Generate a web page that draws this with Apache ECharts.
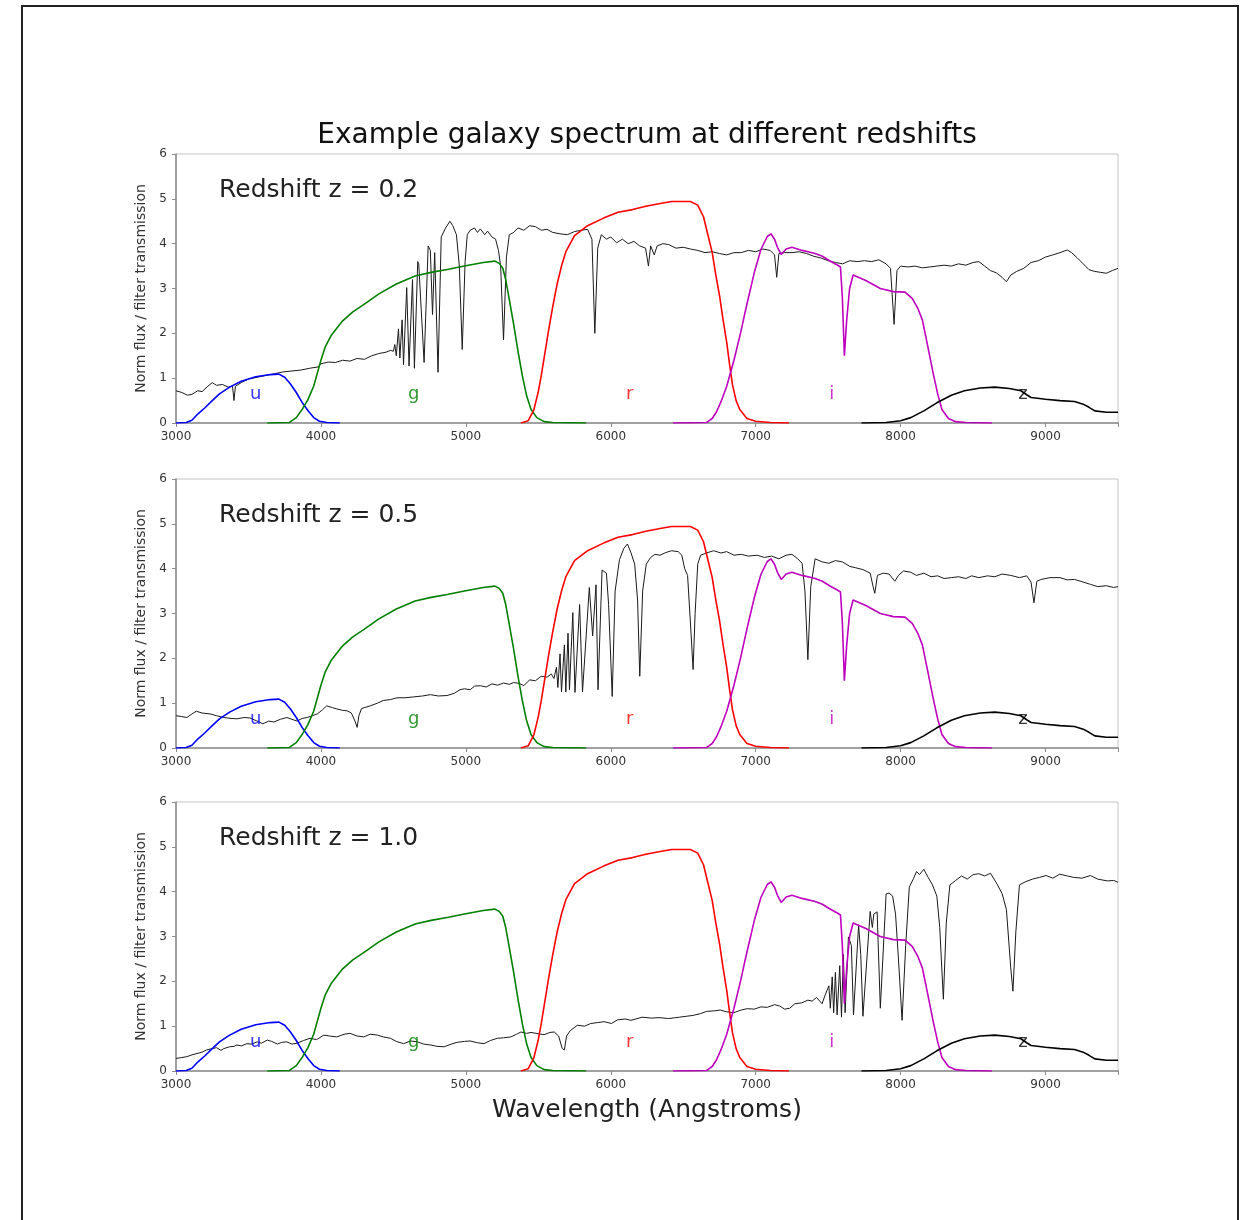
<!DOCTYPE html>
<html>
<head>
<meta charset="utf-8">
<title>Example galaxy spectrum at different redshifts</title>
<script src="https://cdn.jsdelivr.net/npm/echarts@6/dist/echarts.min.js"></script>
<style>
  html, body { margin: 0; padding: 0; background: #fff; }
  #chart { width: 1240px; height: 1220px; }
</style>
</head>
<body>
<div id="chart"></div>
<script>
// panel redshifts and filter names
const redshifts = ['0.2', '0.5', '1.0']
const filterNames = ['u', 'g', 'r', 'i', 'z']
const filterLabelWave = [3550, 4640, 6130, 7525, 8845]
const filterLabelLevel = 0.64
const yTicks = [0, 1, 2, 3, 4, 5, 6]

// filter transmission curves (scaled), same in every panel: [wavelength, value]
const uFilter = [[3000,0],[3070,0.01],[3110,0.06],[3150,0.2],[3200,0.34],[3250,0.5],[3300,0.65],[3370,0.8],[3450,0.93],[3550,1.03],[3650,1.08],[3710,1.09],[3750,1.02],[3790,0.87],[3830,0.68],[3870,0.46],[3910,0.28],[3950,0.12],[3990,0.04],[4040,0.01],[4130,0]]
const gFilter = [[3630,0],[3780,0.01],[3830,0.12],[3870,0.3],[3910,0.52],[3950,0.82],[4000,1.4],[4030,1.7],[4070,1.95],[4150,2.28],[4220,2.48],[4300,2.65],[4400,2.88],[4520,3.1],[4650,3.28],[4760,3.36],[4880,3.43],[4990,3.5],[5120,3.58],[5200,3.61],[5230,3.56],[5255,3.45],[5275,3.2],[5300,2.75],[5330,2.2],[5360,1.6],[5390,1.05],[5420,0.6],[5450,0.3],[5490,0.12],[5540,0.03],[5600,0.01],[5830,0]]
const rFilter = [[5380,0],[5430,0.05],[5470,0.3],[5500,0.7],[5520,1.05],[5545,1.55],[5570,2.05],[5600,2.6],[5630,3.1],[5660,3.5],[5690,3.82],[5750,4.18],[5840,4.4],[5950,4.57],[6050,4.7],[6150,4.76],[6250,4.84],[6350,4.9],[6420,4.94],[6550,4.94],[6600,4.86],[6640,4.6],[6670,4.2],[6700,3.8],[6725,3.3],[6750,2.85],[6775,2.3],[6800,1.8],[6820,1.3],[6840,0.85],[6865,0.5],[6890,0.3],[6940,0.1],[7000,0.04],[7100,0.01],[7230,0]]
const iFilter = [[6430,0],[6660,0.01],[6700,0.1],[6730,0.25],[6760,0.47],[6800,0.82],[6850,1.4],[6895,2.0],[6940,2.66],[6990,3.35],[7036,3.87],[7080,4.16],[7105,4.22],[7130,4.1],[7150,3.92],[7176,3.76],[7210,3.88],[7250,3.92],[7320,3.85],[7410,3.78],[7460,3.72],[7510,3.62],[7560,3.53],[7585,3.48],[7598,2.8],[7612,1.5],[7628,2.3],[7648,3.0],[7672,3.3],[7760,3.18],[7860,3.0],[7950,2.93],[8030,2.92],[8080,2.78],[8120,2.55],[8150,2.3],[8185,1.75],[8225,1.1],[8255,0.66],[8285,0.3],[8330,0.1],[8380,0.03],[8450,0.01],[8630,0]]
const zFilter = [[7730,0],[7900,0.01],[8000,0.05],[8070,0.12],[8160,0.27],[8250,0.45],[8350,0.62],[8440,0.72],[8550,0.78],[8650,0.8],[8750,0.77],[8830,0.72],[8870,0.63],[8900,0.57],[9000,0.53],[9100,0.5],[9200,0.48],[9260,0.42],[9300,0.35],[9340,0.27],[9420,0.24],[9500,0.24]]

// observed galaxy spectrum, normalised flux: [wavelength, flux]
const spectrumZ02 = [[3000,0.72],[3040,0.68],[3080,0.62],[3110,0.64],[3150,0.72],[3180,0.7],[3220,0.82],[3250,0.9],[3280,0.84],[3320,0.86],[3360,0.8],[3390,0.82],[3400,0.5],[3410,0.82],[3450,0.9],[3500,0.98],[3560,1.02],[3620,1.06],[3680,1.1],[3740,1.14],[3800,1.16],[3860,1.18],[3920,1.22],[3980,1.25],[4000,1.32],[4050,1.36],[4100,1.35],[4150,1.4],[4200,1.38],[4250,1.44],[4300,1.42],[4350,1.5],[4400,1.55],[4450,1.58],[4480,1.62],[4500,1.6],
  [4510,1.75],[4520,1.5],[4535,2.1],[4545,1.45],[4560,2.3],[4570,1.3],[4592,3.02],[4608,1.27],[4632,3.2],[4645,1.22],[4668,3.6],[4675,3.55],[4712,1.35],[4740,3.95],[4755,3.85],[4770,2.42],[4785,3.8],[4808,1.13],[4830,4.15],[4860,4.35],[4890,4.5],[4910,4.4],[4935,4.2],[4955,3.5],[4975,1.64],[4995,3.6],[5010,4.2],[5030,4.3],[5060,4.35],[5080,4.25],[5100,4.33],[5130,4.2],[5150,4.28],[5180,4.15],[5205,4.1],[5225,3.85],[5240,3.5],[5260,1.85],[5280,3.7],[5300,4.2],[5330,4.25],[5360,4.35],[5400,4.3],[5440,4.4],[5480,4.38],[5520,4.3],[5560,4.32],[5600,4.25],[5650,4.22],[5700,4.2],[5750,4.27],[5800,4.3],[5840,4.32],[5870,4.1],[5890,2.0],[5910,3.9],[5935,4.2],[5970,4.1],[6000,4.15],[6040,4.02],[6080,4.1],[6120,4.0],[6160,4.05],[6200,3.95],[6240,3.9],[6260,3.5],[6275,3.95],[6300,3.75],[6320,3.95],[6360,4.0],[6400,3.98],[6450,3.9],[6500,3.92],[6550,3.88],[6600,3.85],[6650,3.8],[6700,3.82],[6750,3.78],[6800,3.75],[6850,3.8],[6900,3.8],[6950,3.85],[7000,3.82],[7050,3.88],[7100,3.85],[7130,3.75],[7145,3.25],[7160,3.78],[7200,3.8],[7250,3.8],[7300,3.82],[7350,3.78],[7400,3.72],[7450,3.68],[7500,3.62],[7550,3.58],[7600,3.55],[7650,3.62],[7700,3.6],[7750,3.62],[7800,3.6],[7850,3.64],[7900,3.55],[7930,3.45],[7955,2.2],[7975,3.4],[8000,3.5],[8050,3.48],[8100,3.5],[8150,3.46],[8200,3.48],[8250,3.5],[8300,3.52],[8350,3.5],[8400,3.55],[8450,3.52],[8500,3.58],[8540,3.6],[8580,3.5],[8620,3.4],[8660,3.35],[8700,3.25],[8730,3.15],[8760,3.3],[8800,3.38],[8850,3.45],[8900,3.58],[8950,3.62],[9000,3.7],[9050,3.75],[9100,3.8],[9150,3.86],[9180,3.8],[9220,3.68],[9260,3.55],[9300,3.42],[9340,3.38],[9380,3.36],[9420,3.34],[9460,3.4],[9500,3.45]]
const spectrumZ05 = [[3000,0.72],[3040,0.7],[3075,0.68],[3110,0.76],[3140,0.82],[3180,0.78],[3235,0.76],[3280,0.72],[3330,0.68],[3380,0.66],[3420,0.65],[3470,0.68],[3510,0.67],[3560,0.6],[3600,0.54],[3640,0.6],[3675,0.58],[3720,0.64],[3765,0.68],[3800,0.64],[3835,0.6],[3870,0.66],[3905,0.68],[3940,0.72],[3975,0.76],[4010,0.85],[4040,0.94],[4080,0.9],[4110,0.87],[4150,0.84],[4180,0.83],[4210,0.78],[4235,0.6],[4250,0.46],[4262,0.72],[4280,0.88],[4340,0.94],[4390,1.0],[4430,1.06],[4480,1.08],[4525,1.12],[4580,1.12],[4640,1.14],[4700,1.16],[4756,1.19],[4810,1.16],[4870,1.17],[4920,1.22],[4960,1.3],[4990,1.32],[5030,1.3],[5060,1.38],[5100,1.39],[5140,1.36],[5180,1.43],[5220,1.4],[5260,1.45],[5300,1.42],[5330,1.46],[5370,1.44],[5400,1.39],[5440,1.52],[5480,1.5],[5520,1.6],[5560,1.58],[5590,1.65],[5608,1.55],
  [5625,1.8],[5635,1.35],[5650,2.1],[5660,1.25],[5680,2.3],[5690,1.25],[5705,2.56],[5715,1.3],[5738,3.02],[5753,1.24],[5785,3.2],[5805,1.25],[5852,3.58],[5875,2.5],[5898,3.64],[5912,1.3],[5940,3.97],[5970,3.9],[5985,3.2],[6010,1.15],[6030,3.5],[6060,4.2],[6090,4.45],[6115,4.55],[6140,4.35],[6165,4.1],[6185,3.3],[6200,1.6],[6220,3.5],[6245,4.1],[6275,4.25],[6305,4.32],[6340,4.3],[6380,4.36],[6420,4.4],[6465,4.38],[6490,4.3],[6510,4.0],[6530,3.85],[6555,2.5],[6568,1.75],[6582,3.0],[6600,4.1],[6620,4.3],[6660,4.35],[6710,4.4],[6760,4.35],[6800,4.38],[6850,4.3],[6900,4.32],[6950,4.28],[7010,4.3],[7060,4.25],[7110,4.28],[7160,4.22],[7210,4.3],[7250,4.32],[7290,4.22],[7320,4.12],[7340,3.5],[7360,1.97],[7380,3.6],[7410,4.22],[7460,4.15],[7505,4.12],[7550,4.18],[7600,4.15],[7650,4.05],[7690,4.02],[7740,3.98],[7790,3.9],[7810,3.6],[7822,3.45],[7840,3.85],[7880,3.9],[7920,3.88],[7960,3.72],[7985,3.85],[8020,3.95],[8070,3.92],[8110,3.85],[8160,3.9],[8210,3.82],[8255,3.84],[8300,3.78],[8350,3.8],[8400,3.82],[8450,3.78],[8490,3.84],[8540,3.8],[8600,3.84],[8650,3.82],[8700,3.88],[8760,3.85],[8820,3.8],[8870,3.84],[8900,3.7],[8920,3.24],[8940,3.72],[8970,3.76],[9030,3.8],[9100,3.8],[9150,3.75],[9200,3.76],[9260,3.7],[9310,3.65],[9360,3.6],[9420,3.62],[9470,3.58],[9500,3.6]]
const spectrumZ10 = [[3000,0.28],[3040,0.3],[3075,0.32],[3110,0.36],[3145,0.39],[3180,0.42],[3212,0.47],[3250,0.5],[3280,0.52],[3310,0.46],[3330,0.5],[3370,0.54],[3400,0.55],[3420,0.58],[3450,0.56],[3490,0.61],[3520,0.6],[3560,0.65],[3590,0.62],[3630,0.69],[3660,0.66],[3700,0.6],[3730,0.64],[3765,0.65],[3800,0.6],[3835,0.62],[3880,0.68],[3925,0.73],[3970,0.7],[4020,0.8],[4060,0.78],[4110,0.76],[4160,0.82],[4200,0.84],[4250,0.78],[4295,0.76],[4340,0.82],[4390,0.8],[4430,0.76],[4480,0.73],[4520,0.66],[4570,0.61],[4620,0.67],[4665,0.65],[4710,0.6],[4756,0.58],[4800,0.55],[4850,0.54],[4900,0.6],[4940,0.64],[4990,0.66],[5030,0.67],[5080,0.63],[5125,0.61],[5170,0.68],[5217,0.73],[5260,0.74],[5310,0.76],[5350,0.82],[5380,0.87],[5420,0.84],[5450,0.86],[5500,0.83],[5540,0.81],[5580,0.86],[5610,0.87],[5640,0.78],[5665,0.5],[5680,0.47],[5695,0.78],[5720,0.9],[5770,1.02],[5820,1.0],[5862,1.06],[5910,1.08],[5954,1.1],[6005,1.06],[6046,1.14],[6100,1.16],[6140,1.13],[6216,1.2],[6280,1.18],[6333,1.19],[6400,1.17],[6473,1.2],[6520,1.22],[6567,1.24],[6620,1.28],[6661,1.33],[6710,1.34],[6755,1.36],[6800,1.32],[6848,1.3],[6900,1.36],[6942,1.39],[6990,1.38],[7036,1.43],[7080,1.42],[7130,1.48],[7165,1.45],[7200,1.38],[7235,1.4],[7270,1.5],[7318,1.52],[7360,1.58],[7390,1.56],[7420,1.64],[7458,1.5],[7480,1.7],[7505,1.9],
  [7515,1.4],[7528,2.1],[7538,1.3],[7550,2.2],[7562,1.25],[7580,2.35],[7592,1.2],[7605,2.6],[7617,1.3],[7640,2.99],[7660,2.8],[7675,1.25],[7710,3.26],[7725,2.6],[7740,1.22],[7790,3.56],[7805,3.2],[7815,3.5],[7838,3.55],[7860,1.4],[7900,3.95],[7920,3.97],[7945,3.9],[7965,3.5],[7985,2.5],[8010,1.13],[8035,2.8],[8060,4.1],[8090,4.3],[8110,4.45],[8130,4.38],[8160,4.5],[8190,4.32],[8220,4.15],[8250,3.9],[8270,3.2],[8295,1.6],[8315,3.3],[8340,4.15],[8380,4.25],[8420,4.35],[8460,4.28],[8500,4.38],[8540,4.4],[8580,4.35],[8620,4.41],[8660,4.2],[8700,3.96],[8730,3.6],[8760,2.3],[8775,1.78],[8795,3.1],[8820,4.15],[8860,4.22],[8910,4.28],[8960,4.32],[9004,4.36],[9050,4.3],[9098,4.39],[9150,4.35],[9192,4.32],[9250,4.3],[9309,4.36],[9360,4.28],[9426,4.24],[9470,4.25],[9500,4.21]]

const filters = [uFilter, gFilter, rFilter, iFilter, zFilter]
const spectra = [spectrumZ02, spectrumZ05, spectrumZ10]

const filterColors = ['#0000ff', '#008000', '#ff0000', '#bf00bf', '#000000']
const font = '"DejaVu Sans", sans-serif'
const gridTop = [154, 479, 802]

const chart = echarts.init(document.getElementById('chart'))

let series = []
gridTop.forEach((t, p) => {
  series.push({
    type: 'line',
    xAxisIndex: p,
    yAxisIndex: p,
    data: spectra[p],
    showSymbol: false,
    lineStyle: { color: '#1a1a1a', width: 1 },
    z: 2
  })
  filters.forEach((f, k) => {
    series.push({
      type: 'line',
      xAxisIndex: p,
      yAxisIndex: p,
      data: f,
      showSymbol: false,
      lineStyle: { color: filterColors[k], width: 1.6 },
      z: 3
    })
  })
  // filter letters
  series.push({
    type: 'scatter',
    xAxisIndex: p,
    yAxisIndex: p,
    symbolSize: 1,
    itemStyle: { color: 'rgba(0,0,0,0)' },
    data: filterLabelWave.map((w, k) => ({
      value: [w, filterLabelLevel],
      label: { color: filterColors[k] }
    })),
    label: {
      show: true,
      position: 'inside',
      fontSize: 18,
      fontFamily: font,
      formatter: d => filterNames[d.dataIndex]
    },
    z: 4
  })
})

const option = {
  animation: false,
  textStyle: { fontFamily: font },
  grid: gridTop.map(t => ({
    left: 176, top: t, width: 942, height: 269,
    show: true, borderColor: '#c4c4c4', borderWidth: 1, backgroundColor: 'transparent'
  })),
  xAxis: gridTop.map((t, p) => ({
    gridIndex: p,
    type: 'value',
    min: 3000,
    max: 9500,
    interval: 1000,
    axisLine: { onZero: false, lineStyle: { color: '#8c8c8c', width: 1.5 } },
    axisTick: { length: 4, lineStyle: { color: '#8c8c8c' } },
    axisLabel: {
      color: '#333', fontSize: 12, margin: 8, fontFamily: font,
      formatter: v => (v > 9000 ? '' : String(v))
    },
    splitLine: { show: false },
    name: p === 2 ? 'Wavelength (Angstroms)' : '',
    nameLocation: 'middle',
    nameGap: 27,
    nameTextStyle: { fontSize: 25, color: '#222', fontFamily: font }
  })),
  yAxis: gridTop.map((t, p) => ({
    gridIndex: p,
    type: 'value',
    min: yTicks[0],
    max: yTicks[yTicks.length - 1],
    interval: 1,
    axisLine: { show: true, lineStyle: { color: '#8c8c8c', width: 1.5 } },
    axisTick: { show: true, length: 4, lineStyle: { color: '#8c8c8c' } },
    axisLabel: { color: '#333', fontSize: 12, margin: 9, fontFamily: font },
    splitLine: { show: false },
    name: 'Norm flux / filter transmission',
    nameLocation: 'middle',
    nameGap: 22,
    nameTextStyle: { fontSize: 14, color: '#333', fontFamily: font }
  })),
  graphic: [
    {
      type: 'rect',
      shape: { x: 22, y: 6, width: 1216, height: 1240 },
      style: { fill: 'none', stroke: '#222', lineWidth: 2 },
      silent: true
    },
    {
      type: 'text',
      x: 647, y: 136,
      style: {
        text: 'Example galaxy spectrum at different redshifts',
        font: '28px ' + font, fill: '#111', align: 'center', verticalAlign: 'middle'
      }
    }
  ].concat(gridTop.map((t, p) => ({
    type: 'text',
    x: 219, y: t + 36,
    style: {
      text: 'Redshift z = ' + redshifts[p],
      font: '25px ' + font, fill: '#222', align: 'left', verticalAlign: 'middle'
    }
  }))),
  series: series
}

chart.setOption(option)
</script>
</body>
</html>
